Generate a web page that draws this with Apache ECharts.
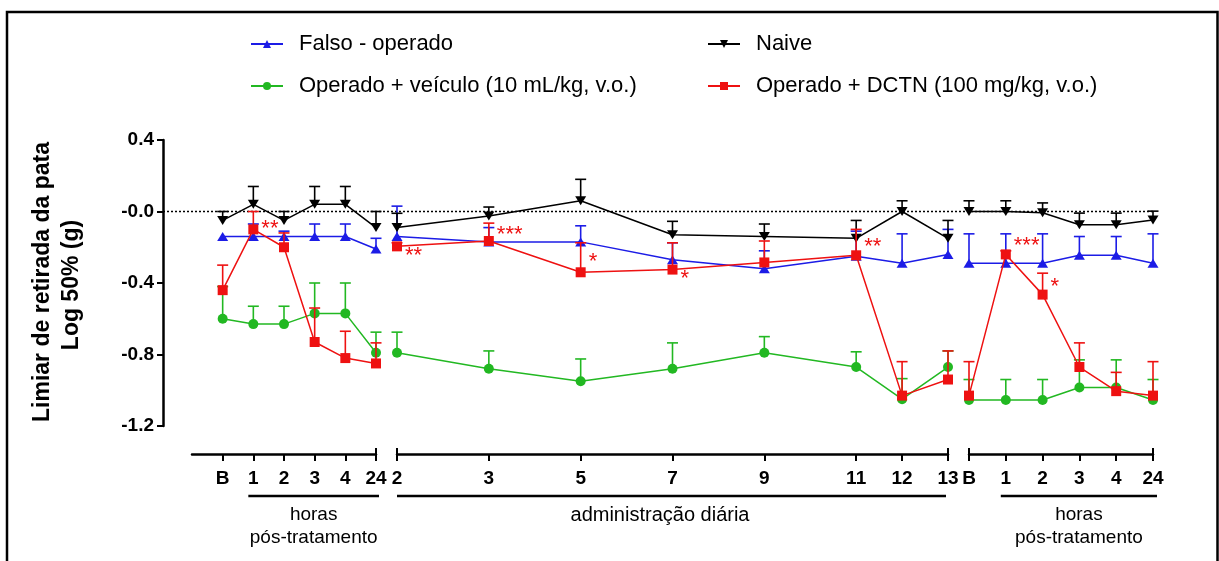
<!DOCTYPE html>
<html><head><meta charset="utf-8">
<script src="https://cdn.jsdelivr.net/npm/echarts@6/dist/echarts.min.js"></script>
<style>html,body{margin:0;padding:0;background:#fff}#c{width:1219px;height:561px}</style>
</head><body><div id="c"></div>
<script>
// ---------- DATA ----------
const groupNames = ['Falso - operado', 'Naive', 'Operado + veículo (10 mL/kg, v.o.)', 'Operado + DCTN (100 mg/kg, v.o.)'];
const yTickLabels = ['-1.2', '-0.8', '-0.4', '-0.0', '0.4'];

// segment 1: hours after first treatment
const seg1Labels = ['B', '1', '2', '3', '4', '24'];
const seg1X = [0, 1, 2, 3, 4, 5];
const seg1Falso = [-0.14, -0.14, -0.14, -0.14, -0.14, -0.21];
const seg1FalsoErr = [0, 0.07, 0.03, 0.07, 0.07, 0.06];
const seg1Naive = [-0.05, 0.04, -0.05, 0.04, 0.04, -0.09];
const seg1NaiveErr = [0.05, 0.10, 0.05, 0.10, 0.10, 0.09];
const seg1Veic = [-0.60, -0.63, -0.63, -0.57, -0.57, -0.79];
const seg1VeicErr = [0.18, 0.10, 0.10, 0.17, 0.17, 0.115];
const seg1Dctn = [-0.44, -0.10, -0.20, -0.73, -0.82, -0.85];
const seg1DctnErr = [0.14, 0.10, 0.08, 0.19, 0.15, 0.115];
const seg1Stars = ['', '**', '', '', '', ''];

// segment 2: daily administration (days)
const seg2Labels = ['2', '3', '5', '7', '9', '11', '12', '13'];
const seg2X = [0, 1, 2, 3, 4, 5, 5.5, 6];
const seg2Falso = [-0.14, -0.17, -0.17, -0.27, -0.32, -0.25, -0.29, -0.24];
const seg2FalsoErr = [0.17, 0.08, 0.09, 0.095, 0.10, 0.14, 0.165, 0.14];
const seg2Naive = [-0.09, -0.025, 0.06, -0.13, -0.14, -0.15, 0.0, -0.15];
const seg2NaiveErr = [0.08, 0.05, 0.12, 0.075, 0.07, 0.10, 0.06, 0.10];
const seg2Veic = [-0.79, -0.88, -0.95, -0.88, -0.79, -0.87, -1.05, -0.87];
const seg2VeicErr = [0.115, 0.10, 0.125, 0.145, 0.09, 0.085, 0.115, 0.09];
const seg2Dctn = [-0.195, -0.165, -0.34, -0.325, -0.285, -0.245, -1.03, -0.94];
const seg2DctnErr = [0.02, 0.10, 0.165, 0.15, 0.12, 0.145, 0.19, 0.16];
const seg2Stars = ['**', '***', '*', '*', '', '**', '', ''];

// segment 3: hours after last treatment
const seg3Labels = ['B', '1', '2', '3', '4', '24'];
const seg3X = [0, 1, 2, 3, 4, 5];
const seg3Falso = [-0.29, -0.29, -0.29, -0.245, -0.245, -0.29];
const seg3FalsoErr = [0.165, 0.165, 0.165, 0.105, 0.105, 0.165];
const seg3Naive = [0.0, 0.0, -0.007, -0.074, -0.074, -0.048];
const seg3NaiveErr = [0.06, 0.06, 0.055, 0.065, 0.065, 0.05];
const seg3Veic = [-1.055, -1.055, -1.055, -0.985, -0.985, -1.055];
const seg3VeicErr = [0.115, 0.115, 0.115, 0.155, 0.155, 0.115];
const seg3Dctn = [-1.03, -0.24, -0.465, -0.87, -1.005, -1.03];
const seg3DctnErr = [0.19, 0.02, 0.12, 0.135, 0.105, 0.19];
const seg3Stars = ['', '***', '*', '', '', ''];

// ---------- STYLE ----------
const FONT = 'Liberation Sans, Arial, sans-serif';
const colors = ['#1c1ce6', '#000000', '#22b822', '#ee1111'];
const symbols = ['triangle', 'triangle', 'circle', 'rect'];
const symbolRot = [0, 180, 0, 0];
const symbolSizes = [[11, 9], [11, 9], 10, 10];
const starOffsets = [
  [0, 0, 0, 0, 0, 0],
  [10, -6, -10, 9, 0, -8, 0, 0],
  [0, -8, -8, 0, 0, 0]
];

const segments = [
  { labels: seg1Labels, x: seg1X, min: -1, max: 5, vals: [seg1Falso, seg1Naive, seg1Veic, seg1Dctn], errs: [seg1FalsoErr, seg1NaiveErr, seg1VeicErr, seg1DctnErr], stars: seg1Stars },
  { labels: seg2Labels, x: seg2X, min: 0, max: 6, vals: [seg2Falso, seg2Naive, seg2Veic, seg2Dctn], errs: [seg2FalsoErr, seg2NaiveErr, seg2VeicErr, seg2DctnErr], stars: seg2Stars },
  { labels: seg3Labels, x: seg3X, min: 0, max: 5, vals: [seg3Falso, seg3Naive, seg3Veic, seg3Dctn], errs: [seg3FalsoErr, seg3NaiveErr, seg3VeicErr, seg3DctnErr], stars: seg3Stars }
];
const gridBoxes = [
  { left: 192, width: 184 },
  { left: 397, width: 551 },
  { left: 969, width: 184 }
];

function renderErr(params, api) {
  const x = api.value(0), y = api.value(1), e = api.value(2);
  if (!e) return null;
  const p0 = api.coord([x, y]);
  const p1 = api.coord([x, y + e]);
  const style = { stroke: api.visual('color'), lineWidth: 1.6 };
  return {
    type: 'group', children: [
      { type: 'line', shape: { x1: p0[0], y1: p0[1], x2: p1[0], y2: p1[1] }, style: style },
      { type: 'line', shape: { x1: p1[0] - 5.5, y1: p1[1], x2: p1[0] + 5.5, y2: p1[1] }, style: style }
    ]
  };
}

const grids = [], xAxes = [], yAxes = [], series = [];
segments.forEach((seg, s) => {
  grids.push({ left: gridBoxes[s].left, width: gridBoxes[s].width, top: 140, height: 286, containLabel: false });
  xAxes.push({
    type: 'value', gridIndex: s, min: seg.min, max: seg.max, position: 'bottom', offset: 28,
    splitLine: { show: false },
    axisLine: { show: true, onZero: false, lineStyle: { color: '#000', width: 2.5 } },
    axisTick: { show: true, customValues: seg.x, length: 7, lineStyle: { color: '#000', width: 2 } },
    axisLabel: {
      show: true, customValues: seg.x, margin: 15, color: '#000', fontWeight: 'bold', fontSize: 19, fontFamily: FONT,
      formatter: (v) => { const i = seg.x.indexOf(v); return i >= 0 ? seg.labels[i] : ''; }
    }
  });
  yAxes.push({
    type: 'value', gridIndex: s, min: -1.2, max: 0.4, interval: 0.4, show: s === 0, offset: 29, position: 'left',
    splitLine: { show: false },
    axisLine: { show: true, onZero: false, lineStyle: { color: '#000', width: 2.5 } },
    axisTick: { show: true, length: 6, lineStyle: { color: '#000', width: 2 } },
    axisLabel: {
      margin: 9, color: '#000', fontWeight: 'bold', fontSize: 19, fontFamily: FONT,
      formatter: (v) => yTickLabels[Math.round((v + 1.2) / 0.4)]
    }
  });
  for (let g = 0; g < 4; g++) {
    series.push({
      type: 'custom', name: '_err' + g + '_' + s, xAxisIndex: s, yAxisIndex: s,
      coordinateSystem: 'cartesian2d', renderItem: renderErr, z: 2 + g, silent: true,
      itemStyle: { color: colors[g] }, encode: { x: 0, y: 1 },
      data: seg.x.map((xv, i) => [xv, seg.vals[g][i], seg.errs[g][i]])
    });
    series.push({
      type: 'line', name: groupNames[g], xAxisIndex: s, yAxisIndex: s, z: 2 + g,
      symbol: symbols[g], symbolRotate: symbolRot[g], symbolSize: symbolSizes[g],
      showAllSymbol: true, color: colors[g],
      lineStyle: { color: colors[g], width: 1.5 }, itemStyle: { color: colors[g] },
      data: seg.x.map((xv, i) => {
        const item = { value: [xv, seg.vals[g][i]] };
        if (g === 3 && seg.stars[i]) {
          item.label = { show: true, formatter: seg.stars[i], position: 'right', distance: 3,
            offset: [0, starOffsets[s][i]], color: colors[3], fontSize: 22, fontFamily: FONT };
        }
        return item;
      })
    });
  }
});

const legendPos = [[250, 33], [707, 33], [250, 75], [707, 75]];
const legends = groupNames.map((n, g) => ({
  data: [n], left: legendPos[g][0], top: legendPos[g][1], itemWidth: 32, itemHeight: 10, padding: 0,
  selectedMode: false,
  textStyle: { fontSize: 22, fontFamily: FONT, color: '#000', padding: [0, 0, 0, 11] }
}));

const chart = echarts.init(document.getElementById('c'), null, { renderer: 'canvas' });
chart.setOption({
  animation: false, backgroundColor: '#fff',
  legend: legends, grid: grids, xAxis: xAxes, yAxis: yAxes, series: series
});

// ---------- decorations computed from the scales ----------
const px = (ax, v) => chart.convertToPixel({ xAxisIndex: ax }, v);
const y0 = chart.convertToPixel({ yAxisIndex: 0 }, 0);
const yAxisX = px(0, segments[0].min) - 29;
const axisY = 426 + 28;
const capX = [px(0, segments[0].max), px(1, segments[1].min), px(1, segments[1].max), px(2, segments[2].min), px(2, segments[2].max)];
const gfx = [];
gfx.push({ type: 'rect', shape: { x: 7, y: 12, width: 1210.5, height: 600 }, style: { fill: null, stroke: '#000', lineWidth: 2.5 }, z: 0 });
gfx.push({ type: 'line', shape: { x1: yAxisX, y1: y0, x2: px(2, segments[2].max), y2: y0 }, style: { stroke: '#000', lineWidth: 1.5, lineDash: [2, 2] }, z: 1 });
capX.forEach(cx => gfx.push({ type: 'line', shape: { x1: cx, y1: axisY - 6, x2: cx, y2: axisY + 7 }, style: { stroke: '#000', lineWidth: 2 }, z: 1 }));
const brY = 496;
const brackets = [[px(0, 1) - 5, px(0, 5) + 3], [px(1, 0), px(1, 6) - 2], [px(2, 1) - 5, px(2, 5) + 4]];
brackets.forEach(b => gfx.push({ type: 'line', shape: { x1: b[0], y1: brY, x2: b[1], y2: brY }, style: { stroke: '#000', lineWidth: 2.5 }, z: 1 }));
const txt = (t, x, y, size, bold, rot) => ({
  type: 'text', x: x, y: y, rotation: rot || 0, z: 1,
  style: { text: t, fill: '#000', font: (bold ? 'bold ' : '') + size + 'px ' + FONT, textAlign: 'center', textVerticalAlign: 'middle' }
});
const c1 = (brackets[0][0] + brackets[0][1]) / 2, c2 = 660, c3 = (brackets[2][0] + brackets[2][1]) / 2;
gfx.push(txt('horas', c1, 515, 19));
gfx.push(txt('pós-tratamento', c1, 538, 19));
gfx.push(txt('administração diária', c2, 515, 20));
gfx.push(txt('horas', c3, 515, 19));
gfx.push(txt('pós-tratamento', c3, 538, 19));
gfx.push(txt('Limiar de retirada da pata', 43, 282, 23, true, Math.PI / 2));
gfx.push(txt('Log 50% (g)', 72, 285, 23, true, Math.PI / 2));
chart.setOption({ graphic: { elements: gfx } });
</script>
</body></html>
